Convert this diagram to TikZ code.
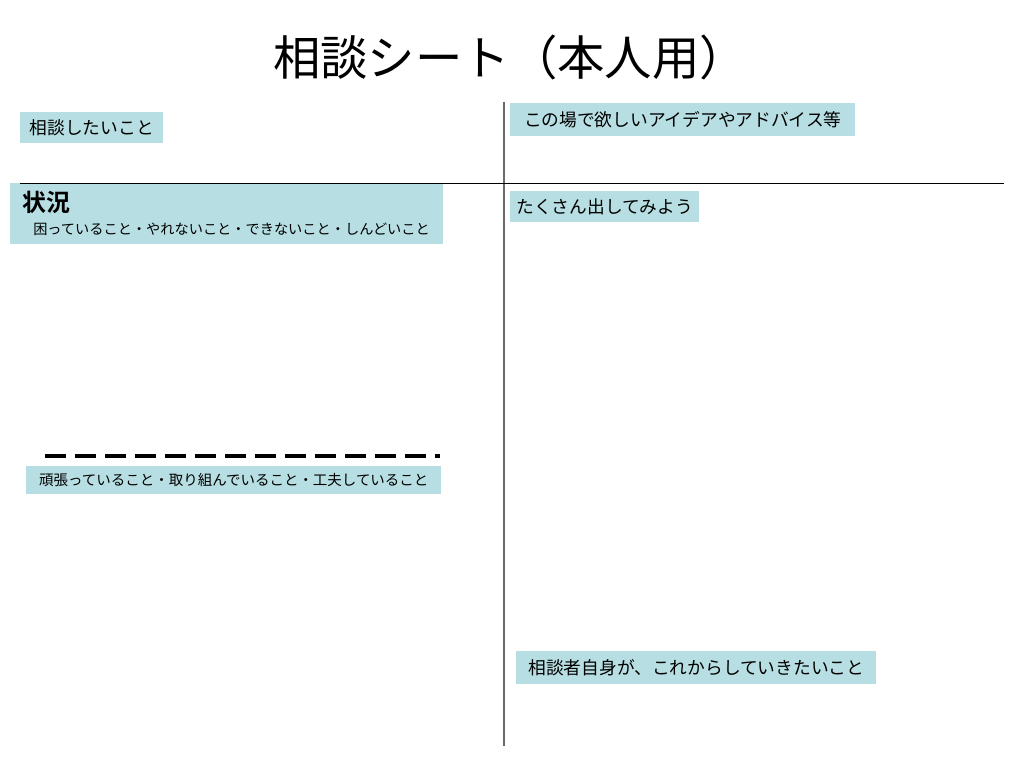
\documentclass[tikz,border=0pt]{standalone}
\usepackage{fontspec}
\setmainfont{Noto Sans CJK JP}[BoldFont={Noto Sans CJK JP Bold}]
\usepackage{tikz}
\definecolor{sheetblue}{RGB}{183,222,226}
\definecolor{linegray}{RGB}{105,105,105}
\tikzset{
  labelbox/.style={fill=sheetblue, anchor=west, inner xsep=0.2cm, inner ysep=0pt,
    font=\fontsize{12.6}{15}\selectfont},
}

\begin{document}
\begin{tikzpicture}[x=0.025cm,y=-0.025cm]
    \useasboundingbox (0,0) rectangle (1024,768);
    % Titolo del foglio
    \node[font=\fontsize{33.7}{40}\selectfont] (title) at (510,57) {相談シート（本人用）};
    % Colonna sinistra
    \node[labelbox, minimum width=3.575cm, minimum height=0.775cm] (ask) at (20,127.5) {相談したいこと};
    \node[labelbox, minimum width=10.825cm, minimum height=1.525cm, text width=10.225cm,
      inner xsep=0.3cm, align=left, font=\fontsize{10.1}{17}\selectfont] (situ) at (10,213.5)
      {{\bfseries\fontsize{17}{17}\selectfont 状況}\\[-1pt]\hspace*{0.275cm}困っていること・やれないこと・できないこと・しんどいこと};
    \draw[line width=2.8pt, dash pattern=on 0.5175cm off 0.2325cm] (45,456) -- (440,456);
    \node[labelbox, minimum width=10.375cm, minimum height=0.7cm,
      font=\fontsize{10.3}{12}\selectfont] (effort) at (26,480) {頑張っていること・取り組んでいること・工夫していること};
    % Colonna destra
    \node[labelbox, minimum width=8.625cm, minimum height=0.825cm] (idea) at (510,119.5) {この場で欲しいアイデアやアドバイス等};
    \node[labelbox, minimum width=4.725cm, minimum height=0.775cm, inner xsep=0.1cm] (many) at (510,206.5) {たくさん出してみよう};
    \node[labelbox, minimum width=9cm, minimum height=0.825cm] (future) at (516,667.5) {相談者自身が、これからしていきたいこと};
    % Linee di divisione
    \draw[linegray,line width=1.1pt] (504,102) -- (504,746);
    \draw[line width=0.7pt] (20,183) -- (1004,183);
\end{tikzpicture}
\end{document}
